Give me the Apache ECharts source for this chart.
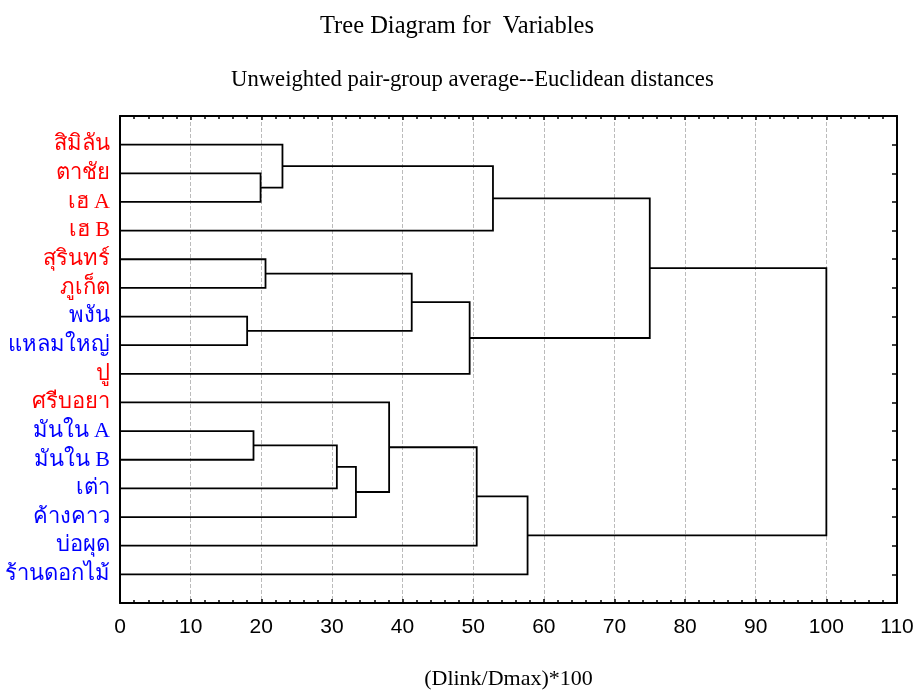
<!DOCTYPE html>
<html>
<head>
<meta charset="utf-8">
<script src="https://cdn.jsdelivr.net/npm/echarts@6/dist/echarts.min.js"></script>
<style>html,body{margin:0;padding:0;background:#fff}#chart{width:923px;height:695px}</style>
</head>
<body>
<div id="chart"></div>
<script>
// Leaves (top to bottom)
const leaves = ['สิมิลัน','ตาชัย','เฮ A','เฮ B','สุรินทร์','ภูเก็ต','พงัน','แหลมใหญ่','ปู','ศรีบอยา','มันใน A','มันใน B','เต่า','ค้างคาว','บ่อผุด','ร้านดอกไม้'];
const leafGroup = ['r','r','r','r','r','r','b','b','r','r','b','b','b','b','b','b'];
// Merges: [childA, childB, linkage distance]; node ids 16+ are clusters in order
const mergeA = [1, 0, 17, 4, 6, 19, 21, 18, 10, 24, 25, 9, 27, 28, 23];
const mergeB = [2, 16, 3, 5, 7, 20, 8, 22, 11, 12, 13, 26, 14, 15, 29];
const mergeH = [19.9, 23.0, 52.8, 20.6, 18.0, 41.3, 49.5, 75.0, 18.9, 30.7, 33.4, 38.1, 50.5, 57.7, 100];
const xTicks = [0,10,20,30,40,50,60,70,80,90,100,110];

const pos = [], hx = [];
leaves.forEach((l, i) => { pos.push(i + 1); hx.push(0); });
const segs = [];
mergeH.forEach((h, k) => {
  const a = mergeA[k], b = mergeB[k];
  segs.push([h, pos[a], pos[b], hx[a], hx[b]]);
  pos.push((pos[a] + pos[b]) / 2);
  hx.push(h);
});

const chart = echarts.init(document.getElementById('chart'), null, {renderer: 'canvas'});
const serif = '"Liberation Serif","Times New Roman",serif';
const sans = '"Liberation Sans",Arial,sans-serif';
const axisLineStyle = {color: '#000', width: 2};
chart.setOption({
  animation: false,
  backgroundColor: '#fff',
  title: [
    {text: 'Tree Diagram for  Variables', left: 315, top: 9,
     textStyle: {fontFamily: serif, fontSize: 24.5, fontWeight: 'normal', color: '#000'}},
    {text: 'Unweighted pair-group average--Euclidean distances', left: 226, top: 64,
     textStyle: {fontFamily: serif, fontSize: 22.7, fontWeight: 'normal', color: '#000'}}
  ],
  grid: {left: 120, right: 26, top: 116, bottom: 88},
  xAxis: [
    {type: 'value', min: xTicks[0], max: xTicks[xTicks.length - 1], interval: 10, position: 'bottom',
     axisLine: {show: true, onZero: false, lineStyle: axisLineStyle},
     axisTick: {show: true, inside: true, length: 4, lineStyle: {color: '#000', width: 1.5}},
     minorTick: {show: true, splitNumber: 5, length: 3, lineStyle: {color: '#000', width: 1.5}},
     splitLine: {show: true, lineStyle: {type: 'dashed', color: '#bbbbbb', width: 1}},
     axisLabel: {fontFamily: sans, fontSize: 21, color: '#000', margin: 14},
     name: '(Dlink/Dmax)*100', nameLocation: 'middle', nameGap: 65,
     nameTextStyle: {fontFamily: serif, fontSize: 22, color: '#000'}},
    {type: 'value', min: xTicks[0], max: xTicks[xTicks.length - 1], interval: 10, position: 'top',
     axisLine: {show: true, onZero: false, lineStyle: axisLineStyle},
     axisTick: {show: true, inside: true, length: 4, lineStyle: {color: '#000', width: 1.5}},
     minorTick: {show: true, splitNumber: 5, length: 3, lineStyle: {color: '#000', width: 1.5}},
     splitLine: {show: false}, axisLabel: {show: false}}
  ],
  yAxis: [
    {type: 'value', min: 0, max: leaves.length + 1, interval: 1, inverse: true, position: 'left',
     axisLine: {show: true, onZero: false, lineStyle: axisLineStyle},
     axisTick: {show: false}, splitLine: {show: false},
     axisLabel: {margin: 10,
       formatter: v => (v >= 1 && v <= leaves.length) ? '{' + leafGroup[v - 1] + '|' + leaves[v - 1] + '}' : '',
       rich: {
         r: {color: '#ff0000', fontSize: 22, fontFamily: serif},
         b: {color: '#0000ff', fontSize: 22, fontFamily: serif}
       }}},
    {type: 'value', min: 0, max: leaves.length + 1, interval: 1, inverse: true, position: 'right',
     axisLine: {show: true, onZero: false, lineStyle: axisLineStyle},
     axisTick: {show: true, inside: true, length: 5, lineStyle: {color: '#000', width: 1.5}},
     splitLine: {show: false}, axisLabel: {show: false}}
  ],
  series: [{
    type: 'custom',
    xAxisIndex: 0, yAxisIndex: 0,
    data: segs,
    encode: {x: [0, 3, 4], y: [1, 2]},
    renderItem: function (params, api) {
      const h = api.value(0), ya = api.value(1), yb = api.value(2), xa = api.value(3), xb = api.value(4);
      const pts = [api.coord([xa, ya]), api.coord([h, ya]), api.coord([h, yb]), api.coord([xb, yb])];
      return {type: 'polyline', shape: {points: pts},
              style: {stroke: '#000', lineWidth: 1.8, fill: null}};
    }
  }]
});
</script>
</body>
</html>
